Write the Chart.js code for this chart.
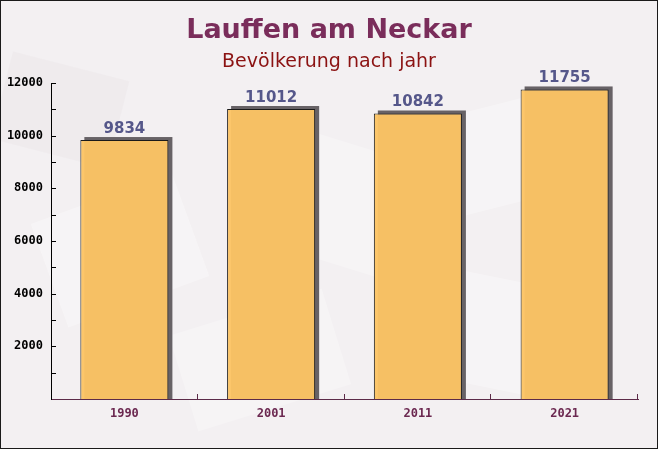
<!DOCTYPE html>
<html>
<head>
<meta charset="utf-8">
<script src="https://cdn.jsdelivr.net/npm/chart.js@4/dist/chart.umd.min.js"></script>
<style>
html,body{margin:0;padding:0;background:#f3f0f2;}
#wrap{width:658px;height:449px;position:relative;}
</style>
</head>
<body>
<div id="wrap"><canvas id="c" width="658" height="449"></canvas></div>
<script>
const titleText = "Lauffen am Neckar";
const subtitleText = "Bevölkerung nach jahr";
const categories = ["1990", "2001", "2011", "2021"];
const population = [9834, 11012, 10842, 11755];
const yTickLabels = [2000, 4000, 6000, 8000, 10000, 12000];

const decor = {
  id: 'decor',
  beforeDraw(chart) {
    const ctx = chart.ctx;
    ctx.save();
    ctx.fillStyle = '#f3f0f2';
    ctx.fillRect(0, 0, chart.width, chart.height);
    const shapes = [
      [120, 250, 150, 110, -0.35, 'rgba(255,255,255,0.3)'],
      [330, 200, 160, 120, 0.3, 'rgba(255,255,255,0.25)'],
      [520, 150, 140, 100, -0.25, 'rgba(255,255,255,0.3)'],
      [480, 330, 170, 110, 0.2, 'rgba(255,255,255,0.3)'],
      [60, 110, 120, 90, 0.25, 'rgba(232,226,230,0.35)'],
      [260, 360, 160, 100, -0.3, 'rgba(255,255,255,0.25)']
    ];
    shapes.forEach(s => {
      ctx.save();
      ctx.translate(s[0], s[1]);
      ctx.rotate(s[4]);
      ctx.fillStyle = s[5];
      ctx.fillRect(-s[2] / 2, -s[3] / 2, s[2], s[3]);
      ctx.restore();
    });
    ctx.restore();
  },
  beforeDatasetsDraw(chart) {
    const ctx = chart.ctx;
    const meta = chart.getDatasetMeta(0);
    const area = chart.chartArea;
    ctx.save();
    ctx.beginPath();
    ctx.rect(area.left, 0, area.right - area.left + 10, area.bottom);
    ctx.clip();
    ctx.fillStyle = '#676266';
    meta.data.forEach(bar => {
      const p = bar.getProps(['x', 'y', 'width', 'base'], true);
      ctx.fillRect(p.x - p.width / 2 + 4, p.y - 3, p.width, p.base - p.y + 3);
    });
    ctx.restore();
  },
  afterDatasetsDraw(chart) {
    const ctx = chart.ctx;
    const meta = chart.getDatasetMeta(0);
    ctx.save();
    ctx.font = 'bold 15px "DejaVu Sans"';
    ctx.fillStyle = '#55578a';
    ctx.textAlign = 'center';
    ctx.textBaseline = 'alphabetic';
    meta.data.forEach((bar, i) => {
      const p = bar.getProps(['x', 'y'], true);
      ctx.fillText(String(population[i]), p.x, p.y - 7);
    });
    ctx.restore();
  },
  afterDraw(chart) {
    const ctx = chart.ctx;
    const area = chart.chartArea;
    const ys = chart.scales.y;
    const xs = chart.scales.x;
    ctx.save();
    ctx.strokeStyle = '#000';
    ctx.lineWidth = 1;
    for (let v = 1000; v <= 12000; v += 1000) {
      const py = Math.round(ys.getPixelForValue(v)) + 0.5;
      ctx.beginPath();
      ctx.moveTo(area.left, py);
      ctx.lineTo(area.left + 5, py);
      ctx.stroke();
    }
    ctx.strokeStyle = '#5c2a48';
    for (let i = 1; i <= categories.length; i++) {
      let px;
      if (i < categories.length) {
        px = (xs.getPixelForValue(i - 1) + xs.getPixelForValue(i)) / 2;
      } else {
        px = xs.right;
      }
      px = Math.round(px) - 0.5;
      ctx.beginPath();
      ctx.moveTo(px, area.bottom);
      ctx.lineTo(px, area.bottom - 5);
      ctx.stroke();
    }
    ctx.textAlign = 'center';
    ctx.textBaseline = 'middle';
    ctx.fillStyle = '#7a2d5b';
    ctx.font = 'bold 27px "DejaVu Sans"';
    ctx.fillText(titleText, chart.width / 2, 31);
    ctx.fillStyle = '#8b1212';
    ctx.font = '19px "DejaVu Sans"';
    ctx.fillText(subtitleText, chart.width / 2, 62);
    ctx.strokeStyle = '#1a1a1a';
    ctx.strokeRect(0.5, 0.5, chart.width - 1, chart.height - 1);
    ctx.restore();
  }
};

new Chart(document.getElementById('c'), {
  type: 'bar',
  data: {
    labels: categories,
    datasets: [{
      data: population,
      backgroundColor: 'rgba(252,196,100,0.96)',
      borderColor: '#1a1a1a',
      borderWidth: 1,
      inflateAmount: 0,
      barPercentage: 0.6,
      categoryPercentage: 1.0
    }]
  },
  options: {
    responsive: false,
    animation: false,
    devicePixelRatio: 1,
    layout: { padding: { left: 0, right: 20, top: 83, bottom: 0 } },
    plugins: {
      legend: { display: false },
      tooltip: { enabled: false },
      title: { display: false }
    },
    scales: {
      x: {
        afterFit(scale) { scale.height = 50; },
        grid: { display: false, drawTicks: false },
        border: { display: true, color: '#5c2a48', width: 1 },
        ticks: {
          padding: 8,
          color: '#6b2850',
          font: { family: '"DejaVu Sans Mono"', weight: 'bold', size: 12 }
        }
      },
      y: {
        min: 0,
        max: 12000,
        afterFit(scale) { scale.width = 51; },
        grid: { display: false, drawTicks: false },
        border: { display: true, color: '#000', width: 1 },
        ticks: {
          stepSize: 1000,
          padding: 8,
          color: '#000',
          font: { family: '"DejaVu Sans Mono"', weight: 'bold', size: 12 },
          callback: (v) => yTickLabels.includes(v) ? String(v) : ''
        }
      }
    }
  },
  plugins: [decor]
});
</script>
</body>
</html>
